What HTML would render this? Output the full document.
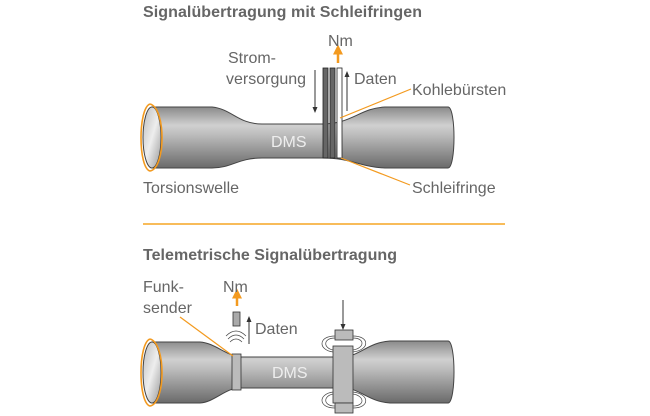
<!DOCTYPE html>
<html><head><meta charset="utf-8"><style>
html,body{margin:0;padding:0;background:#fff;width:650px;height:416px;overflow:hidden}
text{font-family:"Liberation Sans","DejaVu Sans",sans-serif;fill:#666}
</style></head><body>
<svg width="650" height="416" viewBox="0 0 650 416" xmlns="http://www.w3.org/2000/svg">
<defs>
<linearGradient id="g" x1="0" y1="0" x2="0" y2="1">
<stop offset="0" stop-color="#8a8a8a"/><stop offset="0.3" stop-color="#d0d0d0"/><stop offset="0.45" stop-color="#bdbdbd"/><stop offset="1" stop-color="#6a6a6a"/>
</linearGradient>
<linearGradient id="e" x1="0" y1="0" x2="1" y2="1">
<stop offset="0" stop-color="#bbb"/><stop offset="0.5" stop-color="#eee"/><stop offset="1" stop-color="#999"/>
</linearGradient>
<marker id="ab" markerWidth="6" markerHeight="6" refX="3" refY="3" orient="auto"><path d="M0,0.5 L6,3 L0,5.5z" fill="#333"/></marker>
<marker id="ao" markerWidth="4" markerHeight="4" refX="1" refY="2" orient="auto"><path d="M0,0 L4,2 L0,4z" fill="#f39a1f"/></marker>
</defs>

<text x="143" y="17" font-size="16" font-weight="bold" textLength="279">Signalübertragung mit Schleifringen</text>

<path d="M152,107 L212,107 C232,109 238,124 262,124 L322,124 C352,124 360,108 385,107 L448,107 C456,107 456,168 448,168 L385,168 C360,167 352,158 322,158 L262,158 C238,158 232,168 212,168 L152,168 Z" fill="url(#g)" stroke="#444" stroke-width="1"/>
<ellipse cx="152" cy="137.5" rx="9" ry="30.5" fill="url(#e)" stroke="#444"/>
<path d="M150,104 C166,108 166,168 150,171 C138,168 138,108 150,104" fill="none" stroke="#f39a1f" stroke-width="1.6"/>
<text x="271" y="147" font-size="16" style="fill:#eee">DMS</text>
<rect x="323" y="68" width="5" height="90" fill="#666" stroke="#222" stroke-width="0.8"/>
<rect x="330" y="68" width="5" height="90" fill="#666" stroke="#222" stroke-width="0.8"/>
<rect x="337" y="68" width="5" height="90" fill="#fff" stroke="#222" stroke-width="0.8"/>
<line x1="315" y1="70" x2="315" y2="110" stroke="#333" marker-end="url(#ab)"/>
<line x1="347" y1="111" x2="347" y2="74" stroke="#333" marker-end="url(#ab)"/>
<line x1="338" y1="63" x2="338" y2="52" stroke="#f39a1f" stroke-width="2.5" marker-end="url(#ao)"/>
<text x="328" y="46" font-size="16">Nm</text>
<text x="228" y="63" font-size="16">Strom-</text>
<text x="226" y="84" font-size="16">versorgung</text>
<text x="354" y="84" font-size="16">Daten</text>
<text x="412" y="95" font-size="16">Kohlebürsten</text>
<line x1="340" y1="118" x2="411" y2="89" stroke="#f39a1f" stroke-width="1.2"/>
<text x="143" y="193" font-size="16">Torsionswelle</text>
<text x="412" y="193" font-size="16">Schleifringe</text>
<line x1="341" y1="158" x2="410" y2="185" stroke="#f39a1f" stroke-width="1.2"/>

<line x1="143" y1="224" x2="505" y2="224" stroke="#f6a623" stroke-width="1.5"/>
<text x="143" y="260" font-size="16" font-weight="bold" textLength="254">Telemetrische Signalübertragung</text>

<path d="M152,342 L200,342 C215,343 225,355 240,357 L345,357 C360,355 370,342 390,341 L448,341 C456,341 456,403 448,403 L390,403 C370,402 360,389 345,388 L240,388 C225,388 215,402 200,403 L152,403 Z" fill="url(#g)" stroke="#444"/>
<ellipse cx="152" cy="372.5" rx="9" ry="30.5" fill="url(#e)" stroke="#444"/>
<path d="M150,339 C166,343 166,403 150,406 C138,403 138,343 150,339" fill="none" stroke="#f39a1f" stroke-width="1.6"/>
<text x="272" y="378" font-size="16" style="fill:#eee">DMS</text>
<rect x="232" y="354" width="9" height="36" fill="#bbb" stroke="#333" stroke-width="0.8"/>
<rect x="333" y="346" width="20" height="57" fill="#bbb" stroke="#333" stroke-width="0.8"/>
<rect x="335" y="330" width="18" height="10" fill="#bbb" stroke="#333" stroke-width="0.8"/>
<rect x="335" y="403" width="18" height="10" fill="#bbb" stroke="#333" stroke-width="0.8"/>
<g fill="none" stroke="#444" stroke-width="0.7">
<path d="M335,336 C318,336 318,350 333,352"/><path d="M335,338 C323,338 323,348 333,350"/>
<path d="M353,336 C370,336 370,350 353,352"/><path d="M353,338 C365,338 365,348 353,350"/>
<path d="M335,408 C318,408 318,394 333,392"/><path d="M335,406 C323,406 323,396 333,394"/>
<path d="M353,408 C370,408 370,394 353,392"/><path d="M353,406 C365,406 365,396 353,394"/>
<path d="M230,342 Q236,336 242,342"/><path d="M228,339 Q236,331 244,339"/><path d="M226,336 Q236,326 246,336"/>
</g>
<line x1="343" y1="300" x2="343" y2="327" stroke="#333" marker-end="url(#ab)"/>
<rect x="233" y="312" width="7" height="14" fill="#aaa" stroke="#333" stroke-width="0.8"/>
<line x1="237" y1="306" x2="237" y2="296" stroke="#f39a1f" stroke-width="2.5" marker-end="url(#ao)"/>
<text x="223" y="292" font-size="16">Nm</text>
<line x1="249" y1="344" x2="249" y2="319" stroke="#333" marker-end="url(#ab)"/>
<text x="255" y="334" font-size="16">Daten</text>
<text x="143" y="292" font-size="16">Funk-</text>
<text x="143" y="313" font-size="16">sender</text>
<line x1="180" y1="317" x2="233" y2="356" stroke="#f39a1f" stroke-width="1.2"/>
</svg>
</body></html>
